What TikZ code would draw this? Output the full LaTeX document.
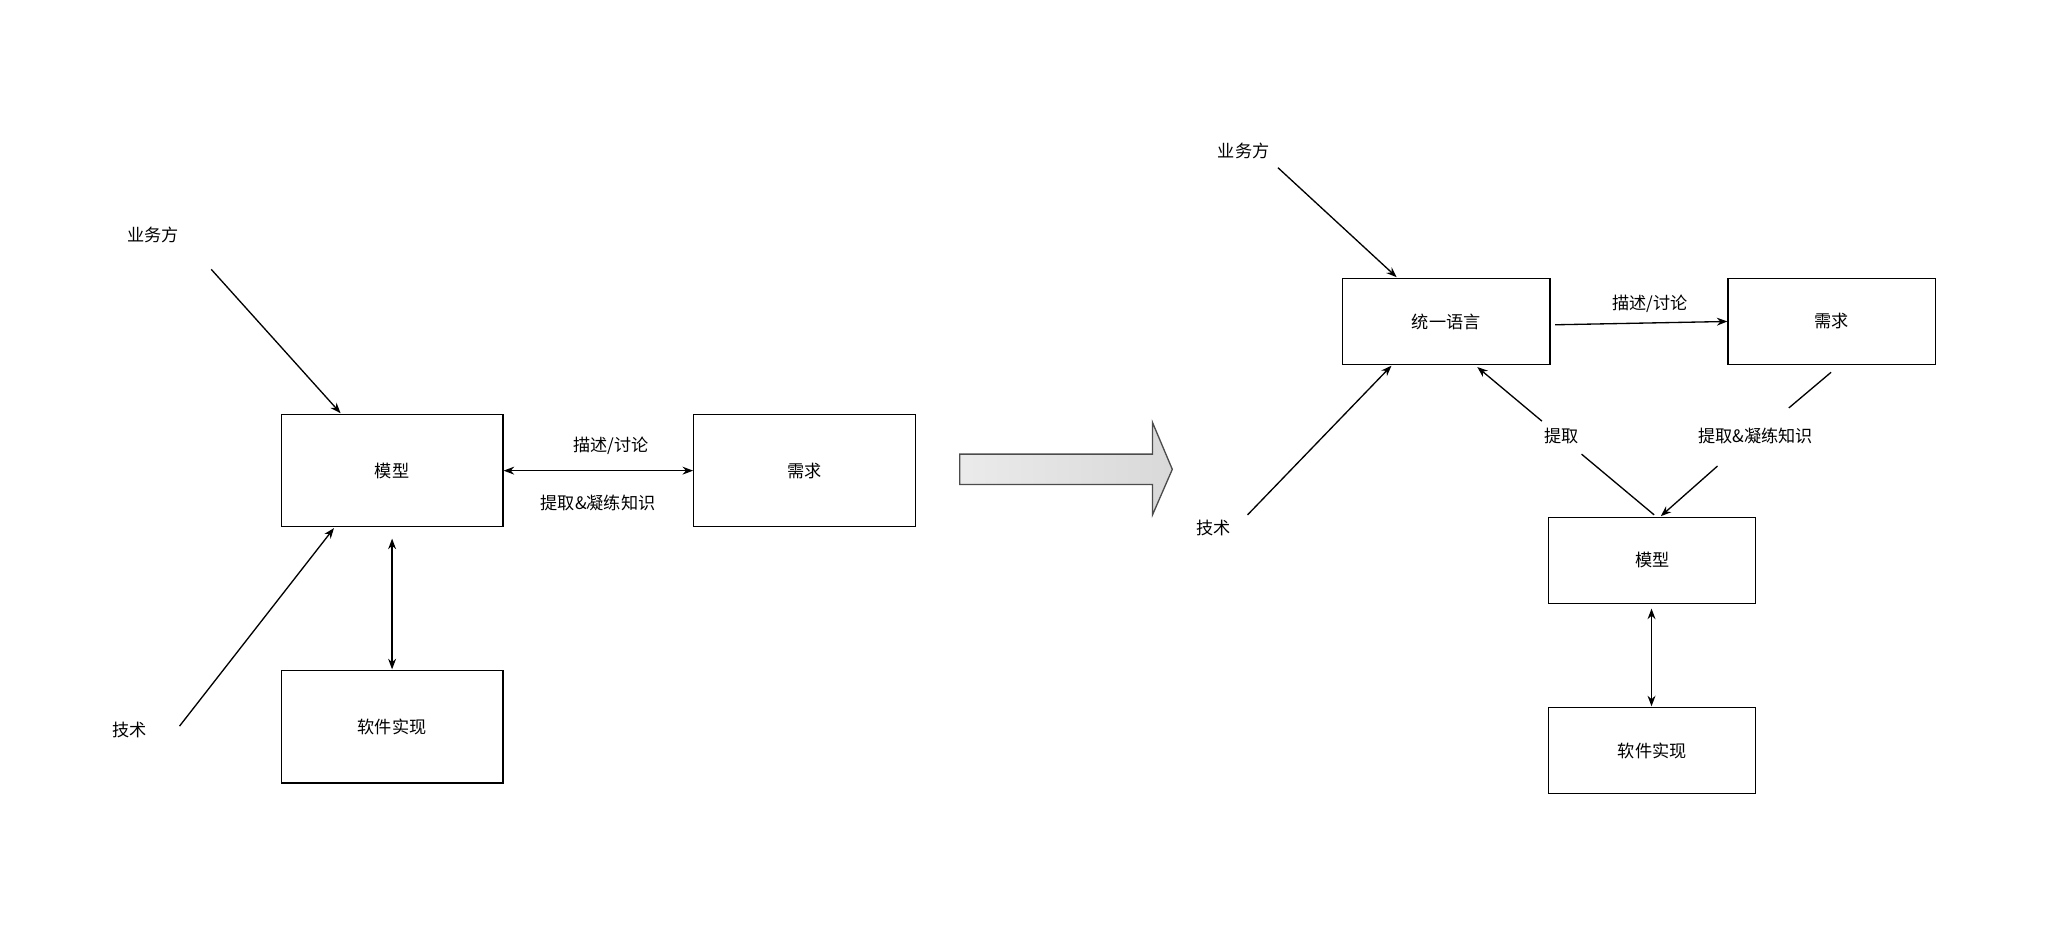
\documentclass[tikz,border=0pt]{standalone}
\usepackage{fontspec}
\setmainfont{Noto Sans CJK SC}
\usetikzlibrary{arrows.meta}
\begin{document}
\begin{tikzpicture}[x=0.5pt,y=-0.5pt,
  box/.style={draw,line width=0.5pt,minimum width=84pt,minimum height=42.5pt,inner sep=0pt},
  rbox/.style={draw,line width=0.5pt,minimum width=78.5pt,minimum height=32.5pt,inner sep=0pt},
  lbl/.style={font=\fontsize{6.5pt}{8pt}\selectfont,inner sep=1pt},
  arr/.style={line width=0.5pt,-{Stealth[length=4pt,width=3pt]}},
  darr/.style={line width=0.5pt,{Stealth[length=4pt,width=3pt]}-{Stealth[length=4pt,width=3pt]}}]
\useasboundingbox (0,0) rectangle (1568,709);
\tikzset{every node/.append style={font=\fontsize{6.5pt}{8pt}\selectfont}}
% left
\node[box] (m) at (297,356.5) {模型};
\node[box] (r) at (609.5,356.5) {需求};
\node[box] (s) at (297,550.5) {软件实现};
\node[lbl] (yw) at (116,178) {业务方};
\node[lbl] (js) at (98,553) {技术};
\coordinate (ywa) at (160,204);
\coordinate (jsa) at (136,550);
\draw[arr] (ywa) -- (258,313);
\draw[arr] (jsa) -- (253,400);
\draw[darr] (m.east) -- (r.west);
\node[lbl] at (463,338) {描述/讨论};
\node[lbl] at (453,381) {提取\&凝练知识};
\draw[darr] (297,408) -- (297,507);
% big arrow
\shade[draw=black!70,line width=0.5pt,left color=black!8,right color=black!15]
 (727,344) -- (873,344) -- (873,320) -- (888,355.5) -- (873,390) -- (873,367) -- (727,367) -- cycle;
% right
\node[rbox] (u) at (1095.5,243.5) {统一语言};
\node[rbox] (r2) at (1387.5,243.5) {需求};
\node[rbox] (m2) at (1251.5,424.5) {模型};
\node[rbox] (s2) at (1251.5,568.5) {软件实现};
\node[lbl] (yw2) at (942,114) {业务方};
\node[lbl] (js2) at (919,400) {技术};
\coordinate (yw2a) at (968,127);
\coordinate (js2a) at (945,390);
\draw[arr] (yw2a) -- (1058,210);
\draw[arr] (js2a) -- (1054,277);
\draw[arr] (1178,246) -- (r2.west);
\node[lbl] at (1250,230) {描述/讨论};
\node[lbl,fill=white] (tq) at (1183,330) {提取};
\draw[line width=0.5pt] (1253,390) -- (1198,344);
\draw[arr] (1168,319) -- (1119,278);
\node[lbl] at (1330,330) {提取\&凝练知识};
\draw[line width=0.5pt] (1387,282) -- (1355,309);
\draw[arr] (1301,353) -- (1258,391);
\draw[darr] (1251,461) -- (1251,535);
\end{tikzpicture}
\end{document}
